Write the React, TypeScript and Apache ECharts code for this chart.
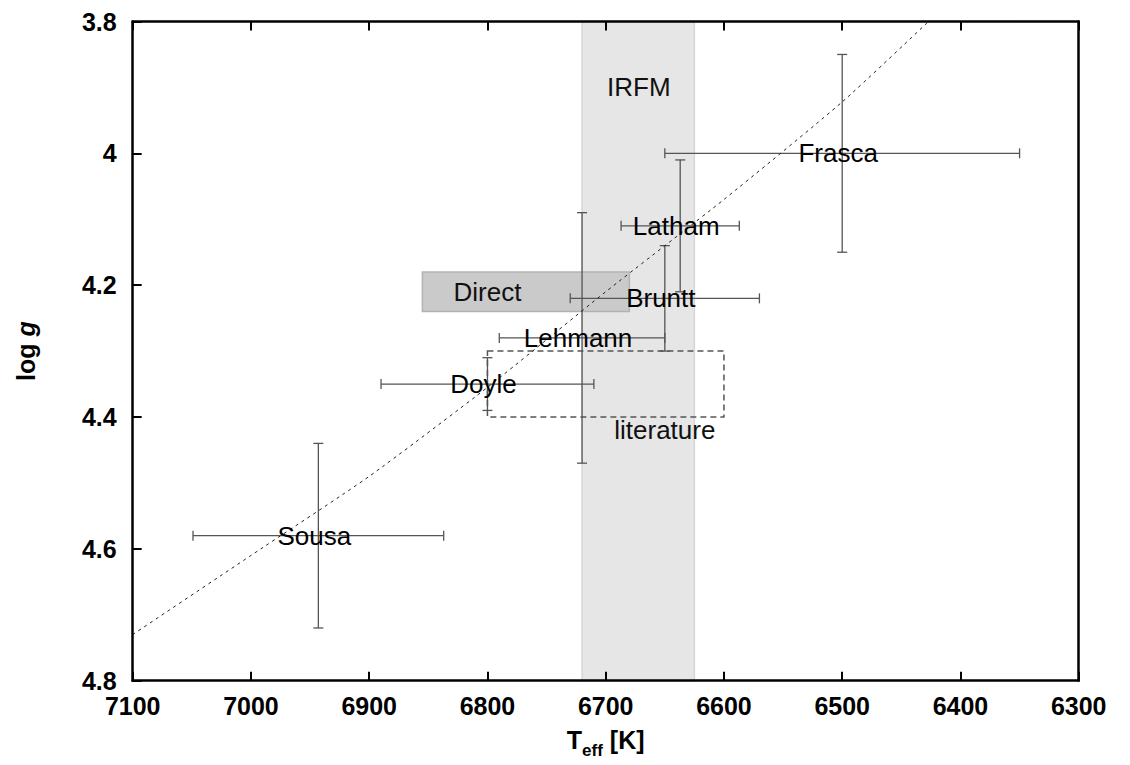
import { useEffect, useRef } from "react";
import * as echarts from "echarts";

// Axis ranges (both axes run inverted, as in an HR / Kiel diagram)
const TEFF_MIN = 6300;
const TEFF_MAX = 7100;
const LOGG_MIN = 3.8;
const LOGG_MAX = 4.8;

// Literature determinations with their error bars
const studies = ["Frasca", "Latham", "Bruntt", "Lehmann", "Doyle", "Sousa"];
const teff = [6500, 6637, 6650, 6720, 6800, 6943];
const teffErr = [150, 50, 80, 70, 90, 106];
const logg = [4.0, 4.11, 4.22, 4.28, 4.35, 4.58];
const loggErr = [0.15, 0.1, 0.08, 0.19, 0.04, 0.14];

// Shaded / outlined regions
const irfmTeff = [6720, 6625];
const directTeff = [6855, 6680];
const directLogg = [4.18, 4.24];
const literatureTeff = [6800, 6600];
const literatureLogg = [4.3, 4.4];

// Region captions
const regionNames = ["IRFM", "Direct", "literature"];
const regionTeff = [6672, 6800, 6650];
const regionLogg = [3.9, 4.21, 4.42];

// Dotted track across the diagram
const trackTeff = [7100, 7000, 6900, 6800, 6700, 6600, 6500, 6427];
const trackLogg = [4.73, 4.61, 4.49, 4.355, 4.21, 4.07, 3.922, 3.8];

const FONT = "'Liberation Sans', Arial, Helvetica, sans-serif";

export default function App() {
  const ref = useRef<HTMLDivElement>(null);

  useEffect(() => {
    if (!ref.current) return;
    const chart = echarts.init(ref.current, undefined, { renderer: "svg" });

    const axisLine = { show: true, onZero: false, lineStyle: { color: "#000", width: 2.5 } };
    const axisTick = { show: true, inside: true, length: 9, lineStyle: { color: "#000", width: 2 } };
    const tickLabel = { color: "#000", fontSize: 25, fontWeight: "bold", fontFamily: FONT };

    const errorData = studies.map((_, i) => [teff[i], logg[i], teffErr[i], loggErr[i]]);

    const option = {
      animation: false,
      grid: { left: 132.7, right: 51.3, top: 21.5, bottom: 84.3, show: false },
      xAxis: [
        {
          type: "value",
          min: TEFF_MIN,
          max: TEFF_MAX,
          interval: 100,
          inverse: true,
          position: "bottom",
          z: 10,
          axisLine,
          axisTick,
          axisLabel: { ...tickLabel, margin: 13, formatter: (v: number) => String(v) },
          splitLine: { show: false },
          name: "{t|T}{s|eff}{t| [K]}",
          nameLocation: "middle",
          nameGap: 40,
          nameTextStyle: {
            rich: {
              t: { fontSize: 25, fontWeight: "bold", fontFamily: FONT, color: "#000", lineHeight: 30, verticalAlign: "middle" },
              s: { fontSize: 17, fontWeight: "bold", fontFamily: FONT, color: "#000", lineHeight: 38, verticalAlign: "bottom" },
            },
          },
        },
        {
          type: "value",
          min: TEFF_MIN,
          max: TEFF_MAX,
          interval: 100,
          inverse: true,
          position: "top",
          z: 10,
          axisLine,
          axisTick,
          axisLabel: { show: false },
          splitLine: { show: false },
        },
      ],
      yAxis: [
        {
          type: "value",
          min: LOGG_MIN,
          max: LOGG_MAX,
          interval: 0.2,
          inverse: true,
          position: "left",
          z: 10,
          axisLine,
          axisTick,
          axisLabel: { ...tickLabel, margin: 16 },
          splitLine: { show: false },
          name: "{a|log }{g|g}",
          nameLocation: "middle",
          nameGap: 94,
          nameTextStyle: {
            rich: {
              a: { fontSize: 25, fontWeight: "bold", fontFamily: FONT, color: "#000" },
              g: { fontSize: 25, fontWeight: "bold", fontStyle: "italic", fontFamily: FONT, color: "#000" },
            },
          },
        },
        {
          type: "value",
          min: LOGG_MIN,
          max: LOGG_MAX,
          interval: 0.2,
          inverse: true,
          position: "right",
          z: 10,
          axisLine,
          axisTick: { show: false },
          axisLabel: { show: false },
          splitLine: { show: false },
        },
      ],
      series: [
        // IRFM temperature band
        {
          type: "custom",
          z: 1,
          data: [[irfmTeff[0], irfmTeff[1]]],
          renderItem: (_p: any, api: any) => {
            const a = api.coord([api.value(0), LOGG_MIN]);
            const b = api.coord([api.value(1), LOGG_MAX]);
            return {
              type: "rect",
              shape: { x: a[0], y: a[1], width: b[0] - a[0], height: b[1] - a[1] },
              style: { fill: "#e6e6e6", stroke: "#d6d6d6", lineWidth: 1.5 },
            };
          },
        },
        // Direct determination box
        {
          type: "custom",
          z: 2,
          data: [[directTeff[0], directTeff[1], directLogg[0], directLogg[1]]],
          renderItem: (_p: any, api: any) => {
            const a = api.coord([api.value(0), api.value(2)]);
            const b = api.coord([api.value(1), api.value(3)]);
            return {
              type: "rect",
              shape: { x: a[0], y: a[1], width: b[0] - a[0], height: b[1] - a[1] },
              style: { fill: "#cacaca", stroke: "#b2b2b2", lineWidth: 1.5 },
            };
          },
        },
        // Literature range box (dashed outline)
        {
          type: "custom",
          z: 3,
          data: [[literatureTeff[0], literatureTeff[1], literatureLogg[0], literatureLogg[1]]],
          renderItem: (_p: any, api: any) => {
            const a = api.coord([api.value(0), api.value(2)]);
            const b = api.coord([api.value(1), api.value(3)]);
            return {
              type: "rect",
              shape: { x: a[0], y: a[1], width: b[0] - a[0], height: b[1] - a[1] },
              style: { fill: "none", stroke: "#555", lineWidth: 1.5, lineDash: [6, 4] },
            };
          },
        },
        // Error bars of the individual studies
        {
          type: "custom",
          z: 4,
          dimensions: ["teff", "logg", "teffErr", "loggErr"],
          encode: { x: 0, y: 1 },
          data: errorData,
          renderItem: (_p: any, api: any) => {
            const t = api.value(0);
            const g = api.value(1);
            const dt = api.value(2);
            const dg = api.value(3);
            const c = api.coord([t, g]);
            const left = api.coord([t + dt, g])[0];
            const right = api.coord([t - dt, g])[0];
            const top = api.coord([t, g - dg])[1];
            const bottom = api.coord([t, g + dg])[1];
            const cap = 5;
            const style = { stroke: "#555", lineWidth: 1.3 };
            const seg = (x1: number, y1: number, x2: number, y2: number) => ({
              type: "line",
              shape: { x1, y1, x2, y2 },
              style,
            });
            return {
              type: "group",
              children: [
                seg(left, c[1], right, c[1]),
                seg(left, c[1] - cap, left, c[1] + cap),
                seg(right, c[1] - cap, right, c[1] + cap),
                seg(c[0], top, c[0], bottom),
                seg(c[0] - cap, top, c[0] + cap, top),
                seg(c[0] - cap, bottom, c[0] + cap, bottom),
              ],
            };
          },
        },
        // Dotted track
        {
          type: "line",
          z: 5,
          data: trackTeff.map((t, i) => [t, trackLogg[i]]),
          symbol: "none",
          smooth: 0.2,
          clip: true,
          lineStyle: { color: "#222", width: 1, type: [3, 4] },
        },
        // Study names
        {
          type: "custom",
          z: 6,
          data: errorData,
          renderItem: (p: any, api: any) => {
            const c = api.coord([api.value(0), api.value(1)]);
            return {
              type: "text",
              x: c[0] - 4,
              y: c[1],
              style: {
                text: studies[p.dataIndex],
                fontSize: 26,
                fontFamily: FONT,
                fill: "#000",
                align: "center",
                verticalAlign: "middle",
              },
            };
          },
        },
        // Region captions
        {
          type: "custom",
          z: 6,
          data: regionNames.map((_, i) => [regionTeff[i], regionLogg[i]]),
          renderItem: (p: any, api: any) => {
            const c = api.coord([api.value(0), api.value(1)]);
            return {
              type: "text",
              x: c[0],
              y: c[1],
              style: {
                text: regionNames[p.dataIndex],
                fontSize: 26,
                fontFamily: FONT,
                fill: "#111",
                align: "center",
                verticalAlign: "middle",
              },
            };
          },
        },
      ],
    };

    chart.setOption(option as any);
    return () => chart.dispose();
  }, []);

  return (
    <div
      ref={ref}
      style={{ position: "absolute", left: 0, top: 0, width: 1130, height: 765, background: "#fff" }}
    />
  );
}
